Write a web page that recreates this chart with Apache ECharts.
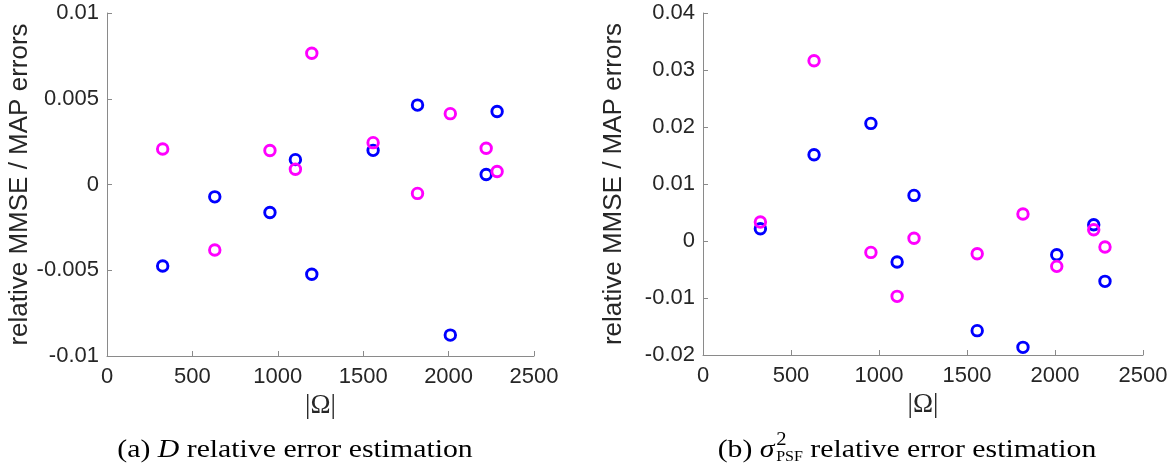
<!DOCTYPE html>
<html><head><meta charset="utf-8">
<script src="https://cdn.jsdelivr.net/npm/echarts@6/dist/echarts.min.js"></script>
<style>html,body{margin:0;padding:0;background:#fff}#c{width:1174px;height:467px}</style>
</head><body><div id="c"></div>
<script>
// |Omega| values (shared x positions)
const omega = [326, 631, 954, 1103, 1199, 1558, 1818, 2010, 2220, 2284];
// (a) D relative error
const dBlue    = [-0.00475, -0.00072, -0.00163, 0.00145, -0.00523, 0.00199, 0.00463, -0.00878, 0.00058, 0.00426];
const dMagenta = [ 0.00207, -0.00382,  0.00198, 0.00089,  0.00765, 0.00244, -0.00052, 0.00413, 0.00211, 0.00076];
// (b) sigma^2_PSF relative error
const sBlue    = [0.00216, 0.01514, 0.02063, -0.00368, 0.0080, -0.01573, -0.01866, -0.0024, 0.00286, -0.00708];
const sMagenta = [0.00333, 0.03163, -0.0020, -0.00971, 0.00047, -0.00223, 0.00474, -0.00445, 0.00198, -0.00105];
// axes
const xRange = [0, 2500, 500];
const yRangeA = [-0.01, 0.01, 0.005];
const yRangeB = [-0.02, 0.04, 0.01];
const yTitle = 'relative MMSE / MAP errors';
const xTitle = '|Ω|';

const SANS = '"Liberation Sans", Arial, Helvetica, sans-serif';
const SERIF = '"Liberation Serif", "Times New Roman", serif';
const CAPFONT = 'Liberation Serif';
const AX = '#8a8a8a', TXT = '#262626';

function pts(xs, ys){ return xs.map((x,i)=>[x, ys[i]]); }

function xAxis(gi){
  return {gridIndex:gi, type:'value', min:xRange[0], max:xRange[1], interval:xRange[2],
    name:xTitle, nameLocation:'middle', nameGap:34,
    nameTextStyle:{fontFamily:SERIF, fontSize:27, color:TXT},
    axisLine:{show:true, onZero:false, lineStyle:{color:AX, width:1}},
    axisTick:{show:true, inside:true, length:5, lineStyle:{color:AX}},
    axisLabel:{fontFamily:SANS, fontSize:22, color:TXT, margin:10, formatter:v=>String(v)},
    splitLine:{show:false}};
}
function yAxis(gi, r, gap){
  return {gridIndex:gi, type:'value', min:r[0], max:r[1], interval:r[2],
    name:yTitle, nameLocation:'middle', nameGap:gap, nameRotate:90,
    nameTextStyle:{fontFamily:SANS, fontSize:26, color:TXT},
    axisLine:{show:true, onZero:false, lineStyle:{color:AX, width:1}},
    axisTick:{show:true, inside:true, length:5, lineStyle:{color:AX}},
    axisLabel:{fontFamily:SANS, fontSize:22, color:TXT, margin:8},
    splitLine:{show:false}};
}
function sc(gi, data, col, name){
  return {type:'scatter', name:name, xAxisIndex:gi, yAxisIndex:gi, data:data,
    symbol:'circle', symbolSize:10.5,
    itemStyle:{color:'rgba(0,0,0,0)', borderColor:col, borderWidth:2.9, opacity:1},
    emphasis:{disabled:true}, animation:false};
}

// caption builder
const cv = document.createElement('canvas').getContext('2d');
function mw(t, st, size){ cv.font = st+' '+size+'px "'+CAPFONT+'"'; return cv.measureText(t).width; }
const CAP = 26, SX = 1.145;
function caption(cx, cy, parts){
  let x = 0; const els = []; let supX = 0, supW = 0;
  parts.forEach(p=>{
    let size = CAP, dy = 0, st = 'normal';
    if(p.s==='i') st='italic';
    if(p.s==='sup'){ size = 18; dy = -10; }
    if(p.s==='sub'){ size = 14; dy = 7; }
    const w = mw(p.t, st, size);
    let px = x;
    if(p.s==='sup'){ supX = x + 1.5; supW = w; x = supX + w; px = supX; }
    else if(p.s==='sub'){ px = supX; x = supX + Math.max(supW, w); }
    else x = x + w;
    els.push({x:px, y:dy, text:p.t, size:size, st:st});
  });
  const total = x * SX;
  return {type:'group', x: cx - total/2, y: cy, scaleX: SX, silent:true,
    children: els.map(e=>({type:'text', x:e.x, y:e.y,
      style:{text:e.text, fontFamily:CAPFONT, fontSize:e.size, fontStyle:e.st, fill:'#000', verticalAlign:'middle'}}))};
}

const chart = echarts.init(document.getElementById('c'), null, {renderer:'canvas'});
chart.setOption({
  animation:false,
  backgroundColor:'#fff',
  grid:[{left:107, right:640, top:13, bottom:111},
        {left:703, right:31, top:13, bottom:112}],
  xAxis:[xAxis(0), xAxis(1)],
  yAxis:[yAxis(0, yRangeA, 72), yAxis(1, yRangeB, 76)],
  series:[
    sc(0, pts(omega, dBlue), '#0000ff', 'a-blue'),
    sc(0, pts(omega, dMagenta), '#ff00ff', 'a-magenta'),
    sc(1, pts(omega, sBlue), '#0000ff', 'b-blue'),
    sc(1, pts(omega, sMagenta), '#ff00ff', 'b-magenta')
  ],
  graphic:[
    caption(295, 450, [{t:'(a) ', s:'n'},{t:'D', s:'i'},{t:' relative error estimation', s:'n'}]),
    caption(907, 450, [{t:'(b) ', s:'n'},{t:'σ', s:'i'},{t:'2', s:'sup'},{t:'PSF', s:'sub'},{t:' relative error estimation', s:'n'}])
  ]
});
</script></body></html>
